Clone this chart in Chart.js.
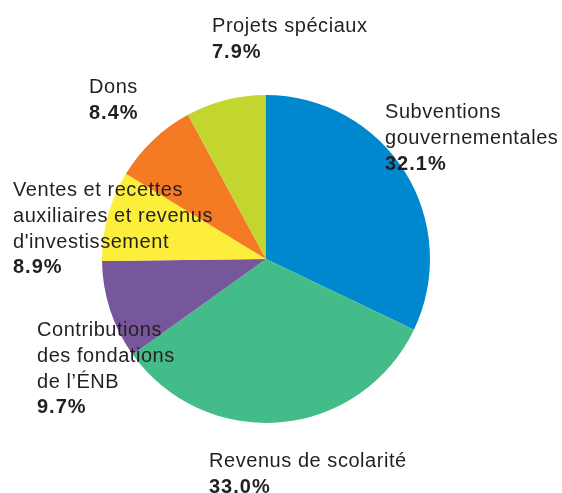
<!DOCTYPE html>
<html>
<head>
<meta charset="utf-8">
<script src="https://cdn.jsdelivr.net/npm/chart.js@4/dist/chart.umd.min.js"></script>
<style>
  html, body { margin: 0; padding: 0; background: #ffffff; }
  #wrap { width: 562px; height: 493px; position: relative; }
</style>
</head>
<body>
<div id="wrap"><canvas id="c" width="562" height="493"></canvas></div>
<script>
// ---- data ----
const categories = [
  ["Subventions", "gouvernementales"],
  ["Revenus de scolarité"],
  ["Contributions", "des fondations", "de l\u2019ÉNB"],
  ["Ventes et recettes", "auxiliaires et revenus", "d'investissement"],
  ["Dons"],
  ["Projets spéciaux"]
];
const values = [32.1, 33.0, 9.7, 8.9, 8.4, 7.9];
const colors = ["#0088cf", "#43bc8a", "#76579b", "#fcee3a", "#f47b23", "#c3d630"];
// label text anchor (left x, first baseline y) in canvas pixels
const labelAnchors = [
  [385, 118], [209, 467], [37, 336], [13, 196], [89, 93], [212, 32]
];

const labelPlugin = {
  id: 'outerLabels',
  afterDraw(chart) {
    const ctx = chart.ctx;
    ctx.save();
    ctx.fillStyle = '#231f20';
    ctx.textBaseline = 'alphabetic';
    ctx.textAlign = 'left';
    const lh = 25.8;
    categories.forEach((lines, i) => {
      const [x, y] = labelAnchors[i];
      ctx.font = '20px "Liberation Sans", Arial, sans-serif';
      try { ctx.letterSpacing = '0.55px'; } catch (e) {}
      lines.forEach((t, k) => ctx.fillText(t, x, y + k * lh));
      ctx.font = 'bold 20px "Liberation Sans", Arial, sans-serif';
      try { ctx.letterSpacing = '1px'; } catch (e) {}
      ctx.fillText(values[i].toFixed(1) + '%', x, y + lines.length * lh);
    });
    ctx.restore();
  }
};

new Chart(document.getElementById('c'), {
  type: 'pie',
  data: {
    labels: categories.map(l => l.join(' ')),
    datasets: [{
      data: values,
      backgroundColor: colors,
      borderWidth: 0
    }]
  },
  options: {
    responsive: false,
    animation: false,
    layout: { padding: { left: 102, right: 132, top: 95, bottom: 70 } },
    plugins: { legend: { display: false }, tooltip: { enabled: false } }
  },
  plugins: [labelPlugin]
});
</script>
</body>
</html>
